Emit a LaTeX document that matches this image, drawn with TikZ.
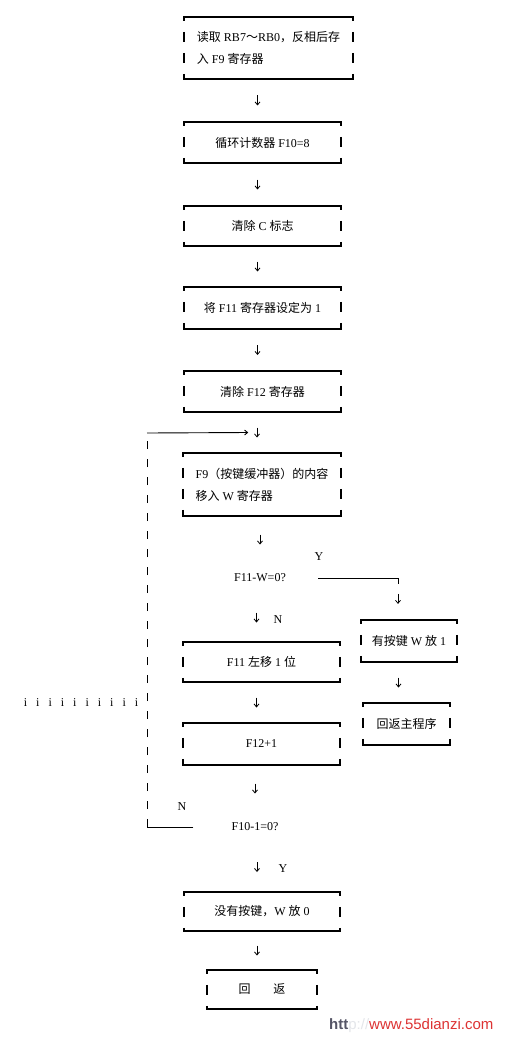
\documentclass[tikz,border=0pt]{standalone}
\usepackage{fontspec}
\usepackage{xcolor}
\usepackage{tikz}
\usetikzlibrary{calc,arrows.meta}
\setmainfont{Liberation Serif}
\newfontfamily\cjk{Noto Sans CJK SC}
\newfontfamily\webfont{Liberation Sans}
\newcommand{\zh}[1]{{\cjk #1}}
\definecolor{wmred}{HTML}{DD3333}
\definecolor{wmgray}{HTML}{555566}
\definecolor{wmfaint}{HTML}{E4E6EA}
% bracket frame round a box node
\newcommand{\bracketframe}[1]{%
  \draw[framebar] (#1.north west) -- (#1.north east);
  \draw[framebar] (#1.south west) -- (#1.south east);
  \draw[framebar, sidedash] (#1.north west) -- (#1.south west);
  \draw[framebar, sidedash] (#1.north east) -- (#1.south east);}
% short down arrow half way between two nodes
\newcommand{\downstep}[3][-5]{%
  \draw[stepline] ($(#2.south -| #3.north)!.5!(#3.north)$) ++(#1,-5) -- ++(0,10);}
\tikzset{
  framebar/.style={line width=1.8pt, line cap=rect},
  sidedash/.style={line cap=butt, dash pattern=on 10pt off 11pt, dash phase=6pt},
  stepline/.style={-{Straight Barb[length=3pt,width=5pt]}, line width=0.8pt},
  link/.style={line width=0.9pt},
}

\begin{document}
\begin{tikzpicture}[x=1pt, y=-1pt, every node/.style={font=\fontsize{12}{22}\selectfont, inner sep=3pt}, stepbox/.style={minimum width=157pt, minimum height=41pt, align=center}, test/.style={minimum height=30pt}]
\path[use as bounding box, fill=white] (0,0) rectangle (510,1038);
\node[stepbox, minimum width=169pt, minimum height=62pt, align=left] (b1) at (268.5,48) {\zh{读取} RB7\zh{～}RB0\zh{，反相后存}\\\zh{入} F9 \zh{寄存器}};
\node[stepbox] (b2) at (262.5,142.5) {\zh{循环计数器} F10=8};
\node[stepbox, minimum height=40pt] (b3) at (262.5,226) {\zh{清除} C \zh{标志}};
\node[stepbox, minimum height=42pt] (b4) at (262.5,308) {\zh{将} F11 \zh{寄存器设定为} 1};
\node[stepbox] (b5) at (262.5,391.5) {\zh{清除} F12 \zh{寄存器}};
\node[stepbox, minimum width=158pt, minimum height=63pt, align=left] (b6) at (262,484.5) {F9\zh{（按键缓冲器）的内容}\\\zh{移入} W \zh{寄存器}};
\node[test] (d1) at (260,578) {F11-W=0?};
\node[stepbox, minimum height=40pt] (b7) at (261.5,662) {F11 \zh{左移} 1 \zh{位}};
\node[stepbox, minimum height=42pt] (b8) at (261.5,744) {F12+1};
\node[test] (d2) at (255,827) {F10-1=0?};
\node[stepbox, minimum width=156pt, minimum height=39pt] (b9) at (262,911.5) {\zh{没有按键，}W \zh{放} 0};
\node[stepbox, minimum width=110pt, minimum height=39pt] (b10) at (262,989.5) {\zh{回}\hspace{23pt}\zh{返}};
\node[stepbox, minimum width=96pt, minimum height=42pt] (r1) at (409,641) {\zh{有按键} W \zh{放} 1};
\node[stepbox, minimum width=87pt, minimum height=42pt] (r2) at (406.5,724) {\zh{回返主程序}};
\node (y1) at (319,557) {Y};
\node (n1) at (278,620) {N};
\node (n2) at (182,807) {N};
\node (y2) at (283,869) {Y};
\node (dots) at (81,703) {\spaceskip=9pt i i i i i i i i i i};
\node[anchor=west, inner sep=0pt] (site) at (329,1026) {\webfont\fontsize{15}{15}\selectfont\textcolor{wmgray}{\bfseries htt}\textcolor{wmfaint}{p://}\textcolor{wmred}{www.55dianzi.com}};
\foreach \n in {b1,b2,b3,b4,b5,b6,b7,b8,b9,b10,r1,r2} {\bracketframe{\n}}
\downstep{b1}{b2} \downstep{b2}{b3} \downstep{b3}{b4} \downstep{b4}{b5} \downstep{b5}{b6}
\downstep[0]{b6}{d1} \downstep{d1}{b7} \downstep{b7}{b8} \downstep[0]{b8}{d2} \downstep{d2}{b9} \downstep{b9}{b10}
\downstep[-8]{r1}{r2}
% Y branch
\coordinate (yturn) at (398,578);
\draw[link] ([xshift=29pt]d1.east) -- (yturn) -- ++(0,6);
\draw[stepline] ($(yturn)!.5!(r1.north -| yturn)$) ++(0,-5) -- ++(0,10);
% loop back
\coordinate (loopbot) at (147,827);
\coordinate (looptop) at (147,433);
\draw[link] ([xshift=-35pt]d2.west) -- (loopbot);
\draw[link, dash pattern=on 8pt off 10pt] (loopbot) -- (looptop);
\draw[link, -{Straight Barb[length=3pt,width=5pt]}] (looptop) -- ($(b5.south)!.5!(b6.north)+(-14,0)$);
\end{tikzpicture}
\end{document}
